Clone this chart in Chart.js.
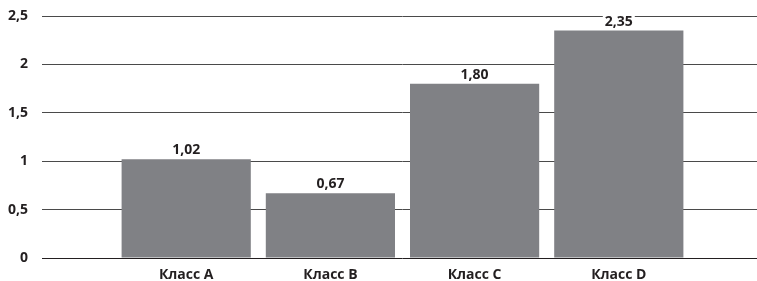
<!DOCTYPE html>
<html>
<head>
<meta charset="utf-8">
<script src="https://cdn.jsdelivr.net/npm/chart.js@4.4.1/dist/chart.umd.min.js"></script>
<style>
  html, body { margin: 0; padding: 0; background: #fff; overflow: hidden; }
  #wrap { width: 772px; height: 281px; }
</style>
</head>
<body>
<div id="wrap"><canvas id="chart"></canvas></div>
<script>
const categories = ['Класс A', 'Класс B', 'Класс C', 'Класс D'];
const values = [1.02, 0.67, 1.80, 2.35];
const yTicks = [0, 0.5, 1, 1.5, 2, 2.5];

const FONT = '"Open Sans", "DejaVu Sans", sans-serif';
const comma = v => String(v).replace('.', ',');

// empty slot on each side so the bars sit where the original puts them
const labels = [''].concat(categories, ['']);
const data = [null].concat(values, [null]);

const valueLabels = {
    id: 'valueLabels',
    afterDatasetsDraw(chart) {
        const ctx = chart.ctx;
        const meta = chart.getDatasetMeta(0);
        ctx.save();
        ctx.font = 'bold 14px ' + FONT;
        ctx.textAlign = 'center';
        ctx.textBaseline = 'alphabetic';
        meta.data.forEach((bar, i) => {
            const v = data[i];
            if (v === null) return;
            const txt = v.toFixed(2).replace('.', ',');
            const w = ctx.measureText(txt).width;
            const y = bar.y - 5;
            ctx.fillStyle = '#fff';
            ctx.fillRect(bar.x - w / 2 - 2, y - 13, w + 4, 15);
            ctx.fillStyle = '#231f20';
            ctx.fillText(txt, bar.x, y);
        });
        ctx.restore();
    }
};

new Chart(document.getElementById('chart'), {
    type: 'bar',
    data: {
        labels: labels,
        datasets: [{
            data: data,
            backgroundColor: '#808185',
            categoryPercentage: 1,
            barPercentage: 0.896
        }]
    },
    options: {
        responsive: true,
        maintainAspectRatio: false,
        animation: false,
        layout: { padding: { top: 16, left: -6, right: 0, bottom: -11.8 } },
        plugins: {
            legend: { display: false },
            tooltip: { enabled: false }
        },
        scales: {
            x: {
                offset: false,
                grid: { display: false, drawTicks: false },
                border: { display: false },
                ticks: {
                    padding: 9,
                    color: '#231f20',
                    font: { family: FONT, size: 14, weight: 'bold' },
                    maxRotation: 0,
                    autoSkip: false
                }
            },
            y: {
                min: 0,
                max: 2.5,
                afterBuildTicks: axis => { axis.ticks = yTicks.map(v => ({ value: v })); },
                border: { display: false },
                grid: {
                    drawTicks: false,
                    color: c => c.tick.value === 0 ? '#231f20' : '#4a4a4a',
                    lineWidth: 1
                },
                ticks: {
                    padding: 14,
                    color: '#231f20',
                    font: { family: FONT, size: 14, weight: 'bold', lineHeight: 0.3 },
                    callback: v => comma(v)
                }
            }
        }
    },
    plugins: [valueLabels]
});
</script>
</body>
</html>
